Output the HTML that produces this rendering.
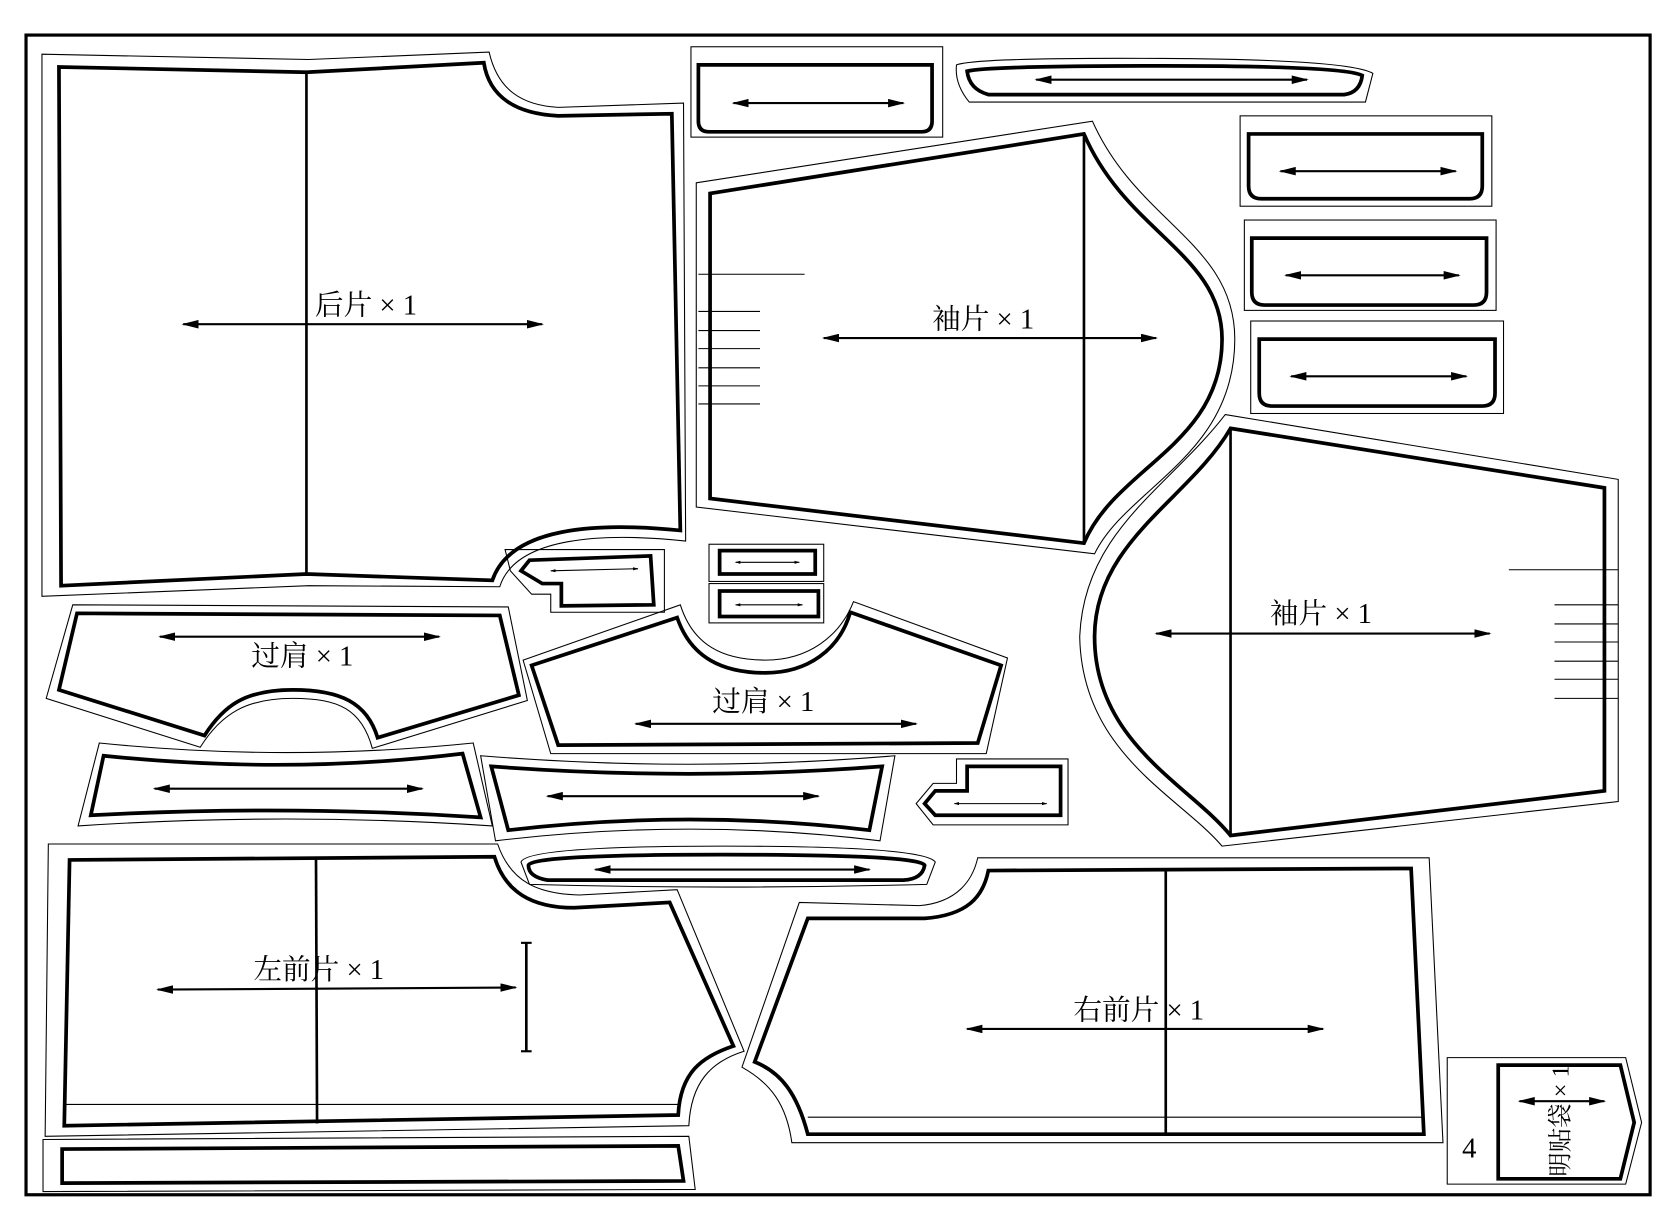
<!DOCTYPE html>
<html><head><meta charset="utf-8"><style>
html,body{margin:0;padding:0;background:#fff}
svg{display:block}
text{font-family:"Liberation Serif","Noto Serif CJK SC",serif;font-size:27px;fill:#000}
.k{fill:none;stroke:#000;stroke-width:3.5;stroke-linejoin:miter}
.t{fill:none;stroke:#000;stroke-width:1}
.l{fill:none;stroke:#000;stroke-width:2}
.m{fill:none;stroke:#000;stroke-width:2.5}
</style></head><body>
<svg width="1665" height="1215" viewBox="0 0 1560 1138" xmlns="http://www.w3.org/2000/svg" preserveAspectRatio="none">
<defs>
<marker id="a" viewBox="0 0 10 10" refX="9" refY="5" markerWidth="8" markerHeight="4" orient="auto-start-reverse" preserveAspectRatio="none"><path d="M0,0 L10,5 L0,10 Z" fill="#000"/></marker>
<marker id="s" viewBox="0 0 10 10" refX="9" refY="5" markerWidth="5" markerHeight="3" orient="auto-start-reverse" preserveAspectRatio="none"><path d="M0,0 L10,5 L0,10 Z" fill="#000"/></marker>
</defs>
<g transform="matrix(0.9952 0 0 0.9956 0.5 -1)">
<rect x="24" y="34" width="1529" height="1091" fill="none" stroke="#000" stroke-width="3"/>

<!-- back piece -->
<path class="t" d="M39,52 L290,57 L460,50 C468,85 490,100 525,102 L643,98 L645,510 C570,502 485,505 470,553 L290,552 L39,562 Z"/>
<path class="k" d="M55,64 L288,69 L455,60 C460,92 485,108 525,110 L632,108 L640,500 C560,492 480,497 463,547 L288,541 L57,552 Z"/>
<line class="m" x1="288" y1="69" x2="288" y2="541"/>
<line class="l" x1="172" y1="306" x2="510" y2="306" marker-start="url(#a)" marker-end="url(#a)"/>
<text x="296" y="297">后片 × 1</text>

<!-- top pocket -->
<rect class="t" x="650" y="45" width="237" height="85"/>
<path class="k" d="M657,62 L877,62 L877,115 Q877,125 867,125 L667,125 Q657,125 657,115 Z"/>
<line class="l" x1="690" y1="98" x2="850" y2="98" marker-start="url(#a)" marker-end="url(#a)"/>

<!-- long flat top -->
<path class="t" d="M900,62 Q920,55 1095,56 Q1270,57 1292,70 L1285,97 L912,97 Q898,80 900,62 Z"/>
<path class="k" d="M910,68 Q930,63 1095,63 Q1265,63 1282,72 Q1280,88 1265,90 L930,90 Q912,85 910,68 Z"/>
<line class="l" x1="975" y1="76" x2="1230" y2="76" marker-start="url(#a)" marker-end="url(#a)"/>

<!-- right small pieces -->
<rect class="t" x="1167" y="110" width="237" height="85"/>
<path class="k" d="M1175,127 L1395,127 L1395,176 Q1395,188 1383,188 L1187,188 Q1175,188 1175,176 Z"/>
<line class="l" x1="1205" y1="162" x2="1370" y2="162" marker-start="url(#a)" marker-end="url(#a)"/>
<rect class="t" x="1171" y="208" width="237" height="85"/>
<path class="k" d="M1178,225 L1399,225 L1399,276 Q1399,288 1387,288 L1190,288 Q1178,288 1178,276 Z"/>
<line class="l" x1="1210" y1="260" x2="1373" y2="260" marker-start="url(#a)" marker-end="url(#a)"/>
<rect class="t" x="1177" y="303" width="238" height="87"/>
<path class="k" d="M1185,320 L1407,320 L1407,371 Q1407,383 1395,383 L1197,383 Q1185,383 1185,371 Z"/>
<line class="l" x1="1215" y1="355" x2="1380" y2="355" marker-start="url(#a)" marker-end="url(#a)"/>

<!-- sleeve 1 -->
<path class="t" d="M655,173 L1028,115 C1070,210 1162,230 1162,320 C1162,430 1060,460 1030,522 L655,478 Z"/>
<path class="k" d="M668,183 L1020,127 C1060,220 1150,240 1150,320 C1150,420 1050,440 1020,512 L668,470 Z"/>
<line class="m" x1="1020" y1="127" x2="1020" y2="512"/>
<g class="t"><line x1="657" y1="259" x2="757" y2="259"/><line x1="657" y1="294" x2="715" y2="294"/><line x1="657" y1="312" x2="715" y2="312"/><line x1="657" y1="329" x2="715" y2="329"/><line x1="657" y1="347" x2="715" y2="347"/><line x1="657" y1="364" x2="715" y2="364"/><line x1="657" y1="381" x2="715" y2="381"/></g>
<line class="l" x1="775" y1="319" x2="1088" y2="319" marker-start="url(#a)" marker-end="url(#a)"/>
<text x="877" y="310">袖片 × 1</text>

<!-- sleeve 2 -->
<path class="t" d="M1153,391 L1523,452 L1523,755 L1150,797 C1110,750 1018,710 1016,600 C1020,500 1100,460 1153,391 Z"/>
<path class="k" d="M1158,404 L1510,460 L1510,745 L1158,787 C1120,740 1030,700 1030,600 C1030,510 1120,470 1158,404 Z"/>
<line class="m" x1="1158" y1="404" x2="1158" y2="787"/>
<g class="t"><line x1="1420" y1="537" x2="1523" y2="537"/><line x1="1463" y1="570" x2="1523" y2="570"/><line x1="1463" y1="588" x2="1523" y2="588"/><line x1="1463" y1="605" x2="1523" y2="605"/><line x1="1463" y1="623" x2="1523" y2="623"/><line x1="1463" y1="640" x2="1523" y2="640"/><line x1="1463" y1="658" x2="1523" y2="658"/></g>
<line class="l" x1="1088" y1="597" x2="1402" y2="597" marker-start="url(#a)" marker-end="url(#a)"/>
<text x="1195" y="587">袖片 × 1</text>

<!-- small flap near back -->
<path class="t" d="M475,518 L625,518 L625,577 L518,577 L518,560 L500,560 L480,538 Z"/>
<path class="k" d="M498,528 L612,524 L615,570 L528,571 L528,550 L510,550 L490,538 Z"/>
<line class="t" x1="518" y1="538" x2="600" y2="536" marker-start="url(#s)" marker-end="url(#s)"/>

<!-- two small rects -->
<rect class="t" x="667" y="513" width="108" height="35"/>
<rect class="k" x="677" y="519" width="90" height="22"/>
<line class="t" x1="692" y1="530" x2="752" y2="530" marker-start="url(#s)" marker-end="url(#s)"/>
<rect class="t" x="667" y="550" width="108" height="37"/>
<rect class="k" x="677" y="557" width="93" height="24"/>
<line class="t" x1="692" y1="570" x2="755" y2="570" marker-start="url(#s)" marker-end="url(#s)"/>

<!-- yoke left -->
<path class="t" d="M68,570 L478,572 L496,660 L350,705 C340,668 318,658 275,658 C232,658 208,672 188,704 L43,658 Z"/>
<path class="k" d="M72,578 L470,580 L488,655 L355,695 C345,662 320,650 275,650 C230,650 210,665 192,693 L55,650 Z"/>
<line class="l" x1="150" y1="600" x2="413" y2="600" marker-start="url(#a)" marker-end="url(#a)"/>
<text x="236" y="627">过肩 × 1</text>

<!-- yoke center -->
<path class="t" d="M492,622 L640,570 C652,608 680,622 720,622 C760,622 790,600 803,567 L948,620 L928,710 L518,710 Z"/>
<path class="k" d="M500,627 L637,582 C650,620 680,634 720,634 C760,634 790,612 800,577 L942,627 L920,700 L525,702 Z"/>
<line class="l" x1="598" y1="682" x2="862" y2="682" marker-start="url(#a)" marker-end="url(#a)"/>
<text x="670" y="670">过肩 × 1</text>

<!-- band left -->
<path class="t" d="M93,700 Q270,718 445,700 L463,778 Q270,765 73,778 Z"/>
<path class="k" d="M97,712 Q270,730 435,710 L452,770 Q270,758 85,768 Z"/>
<line class="l" x1="145" y1="743" x2="397" y2="743" marker-start="url(#a)" marker-end="url(#a)"/>

<!-- band center -->
<path class="t" d="M452,712 Q650,728 842,712 L828,792 Q650,770 466,792 Z"/>
<path class="k" d="M462,722 Q650,736 830,722 L818,782 Q650,762 478,782 Z"/>
<line class="l" x1="515" y1="750" x2="770" y2="750" marker-start="url(#a)" marker-end="url(#a)"/>

<!-- small flap right -->
<path class="t" d="M900,715 L1005,715 L1005,777 L878,777 L862,757 L878,738 L900,738 Z"/>
<path class="k" d="M910,722 L998,722 L998,768 L880,768 L870,757 L880,745 L910,745 Z"/>
<line class="t" x1="898" y1="757" x2="985" y2="757" marker-start="url(#s)" marker-end="url(#s)"/>

<!-- long band bottom center -->
<path class="t" d="M490,812 Q495,797 680,797 Q870,797 880,812 L872,833 Q680,838 498,833 Z"/>
<path class="k" d="M497,815 Q500,805 680,805 Q865,805 870,815 Q868,828 850,829 L515,829 Q497,826 497,815 Z"/>
<line class="l" x1="560" y1="819" x2="818" y2="819" marker-start="url(#a)" marker-end="url(#a)"/>

<!-- left front -->
<path class="t" d="M45,795 L468,795 C480,830 505,842 545,843 L637,838 L700,990 C668,1000 650,1020 648,1060 L42,1070 Z"/>
<path class="k" d="M65,810 L465,807 C475,840 500,855 540,855 L630,850 L690,985 C660,995 640,1010 638,1050 L60,1060 Z"/>
<line class="m" x1="297" y1="808" x2="298" y2="1058"/>
<line class="t" x1="60" y1="1040" x2="638" y2="1040"/>
<line class="l" x1="148" y1="932" x2="485" y2="930" marker-start="url(#a)" marker-end="url(#a)"/>
<line class="m" x1="495" y1="888" x2="495" y2="990"/>
<line class="l" x1="490" y1="888" x2="500" y2="888"/><line class="l" x1="490" y1="990" x2="500" y2="990"/>
<text x="238" y="922">左前片 × 1</text>

<!-- right front -->
<path class="t" d="M920,808 L1345,808 L1358,1076 L745,1076 C740,1040 725,1020 698,1005 L752,850 L865,853 C900,850 915,830 920,808 Z"/>
<path class="k" d="M930,820 L1328,818 L1340,1068 L760,1068 C750,1030 735,1010 710,1000 L760,865 L870,865 C910,862 925,845 930,820 Z"/>
<line class="m" x1="1097" y1="820" x2="1097" y2="1068"/>
<line class="t" x1="760" y1="1052" x2="1338" y2="1052"/>
<line class="l" x1="910" y1="969" x2="1245" y2="969" marker-start="url(#a)" marker-end="url(#a)"/>
<text x="1010" y="960">右前片 × 1</text>

<!-- bottom strip -->
<path class="t" d="M40,1073 L648,1070 L654,1120 L40,1122 Z"/>
<path class="k" d="M58,1082 L638,1079 L643,1112 L58,1114 Z"/>

<!-- bottom right pocket -->
<path class="t" d="M1362,996 L1530,996 L1545,1057 L1530,1115 L1362,1115 Z"/>
<path class="k" d="M1410,1003 L1525,1003 L1538,1057 L1525,1110 L1410,1110 Z"/>
<line class="l" x1="1430" y1="1037" x2="1510" y2="1037" marker-start="url(#a)" marker-end="url(#a)"/>
<text x="1376" y="1090">4</text>
<text x="0" y="0" transform="translate(1476,1108) rotate(-90)" style="font-size:23px">明贴袋 × 1</text>
</g>
</svg>
</body></html>
